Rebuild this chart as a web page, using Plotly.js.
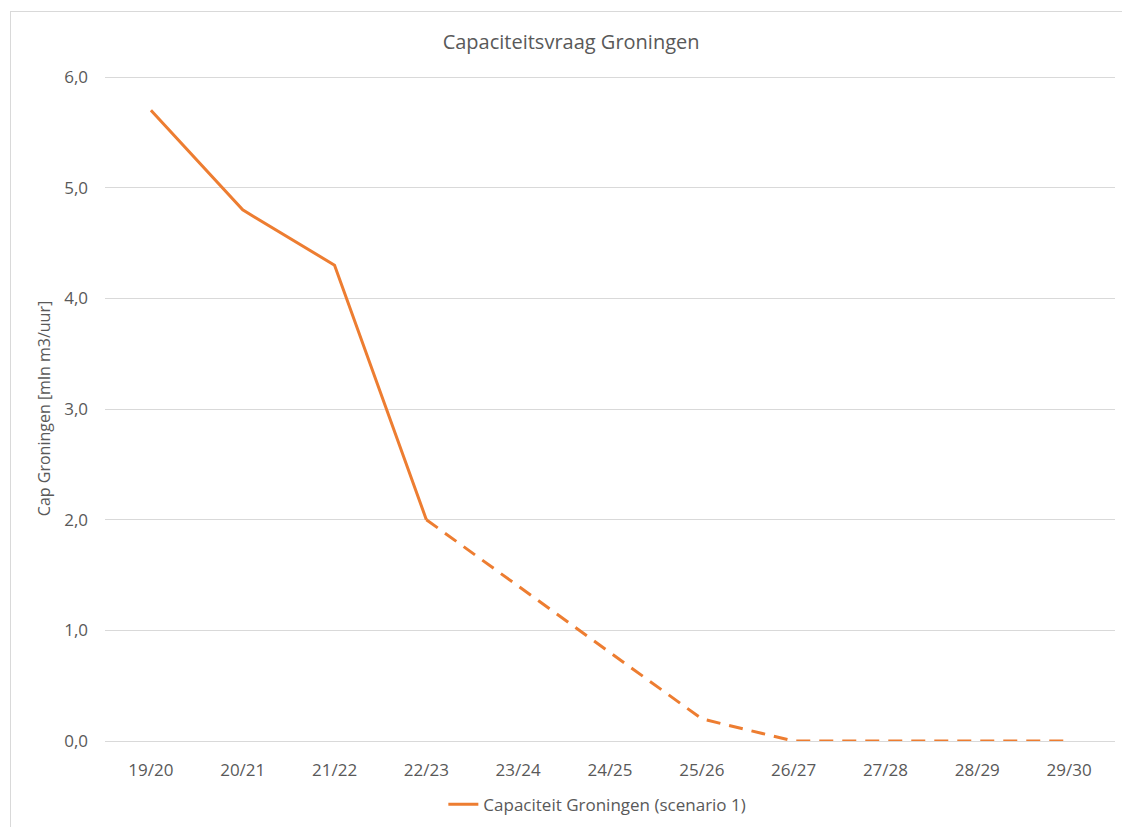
<!DOCTYPE html>
<html>
<head>
<meta charset="utf-8">
<script src="https://cdn.plot.ly/plotly-3.0.1.min.js"></script>
<style>
  html, body { margin: 0; padding: 0; background: #fff; overflow: hidden; width: 1122px; height: 827px; }
  #frame { position: absolute; left: 10px; top: 11px; right: 0; bottom: 0; border-left: 1px solid #d9d9d9; border-top: 1px solid #d9d9d9; }
  #chart { position: absolute; left: 0; top: 0; width: 1122px; height: 827px; }
</style>
</head>
<body>
<div id="frame"></div>
<div id="chart"></div>
<script>
const categories = ["19/20","20/21","21/22","22/23","23/24","24/25","25/26","26/27","27/28","28/29","29/30"];
const actualValues = [5.7, 4.8, 4.3, 2.0, null, null, null, null, null, null, null];
const forecastValues = [null, null, null, 2.0, 1.4, 0.8, 0.2, 0, 0, 0, 0];
const seriesName = "Capaciteit Groningen (scenario 1)";
const yTicks = [0, 1, 2, 3, 4, 5, 6];
const yTickLabels = ["0,0", "1,0", "2,0", "3,0", "4,0", "5,0", "6,0"];

const color = "#ED7D31";
const font = "Open Sans, Calibri, sans-serif";
const grey = "#595959";

const traces = [
  { x: categories, y: actualValues, type: "scatter", mode: "lines", name: seriesName,
    line: { color: color, width: 3 }, connectgaps: false },
  { x: categories, y: forecastValues, type: "scatter", mode: "lines", name: seriesName,
    line: { color: color, width: 3, dash: "14px,9px" }, showlegend: false, connectgaps: false }
];

const layout = {
  width: 1122, height: 827,
  paper_bgcolor: "rgba(0,0,0,0)", plot_bgcolor: "rgba(0,0,0,0)",
  margin: { l: 105, r: 7, t: 76, b: 86, autoexpand: false },
  font: { family: font, color: grey, size: 17 },
  title: { text: "Capaciteitsvraag Groningen", font: { family: font, size: 20, color: grey },
           xref: "container", x: 0.509, xanchor: "center", yref: "container", y: 0.949, yanchor: "middle" },
  xaxis: { type: "category", range: [-0.5, 10.5], showgrid: false, zeroline: false,
           showline: true, linecolor: "#d9d9d9", linewidth: 1, ticks: "",
           tickfont: { family: font, size: 17, color: grey }, ticklabelstandoff: 14, fixedrange: true, automargin: false },
  yaxis: { range: [0, 6.01], tickvals: yTicks, ticktext: yTickLabels, showgrid: true, gridcolor: "#d9d9d9",
           gridwidth: 1, zeroline: false, showline: false, ticks: "",
           tickfont: { family: font, size: 17, color: grey }, ticklabelstandoff: 16,
           title: { text: "Cap Groningen [mln m3/uur]", font: { family: font, size: 16, color: grey }, standoff: 9 },
           fixedrange: true, automargin: false },
  showlegend: true,
  legend: { orientation: "h", x: 0.335, xanchor: "left", yref: "container", y: 0.027, yanchor: "middle",
            font: { family: font, size: 17, color: grey }, bgcolor: "rgba(0,0,0,0)" }
};

Plotly.newPlot("chart", traces, layout, { displayModeBar: false, staticPlot: true });
</script>
</body>
</html>
